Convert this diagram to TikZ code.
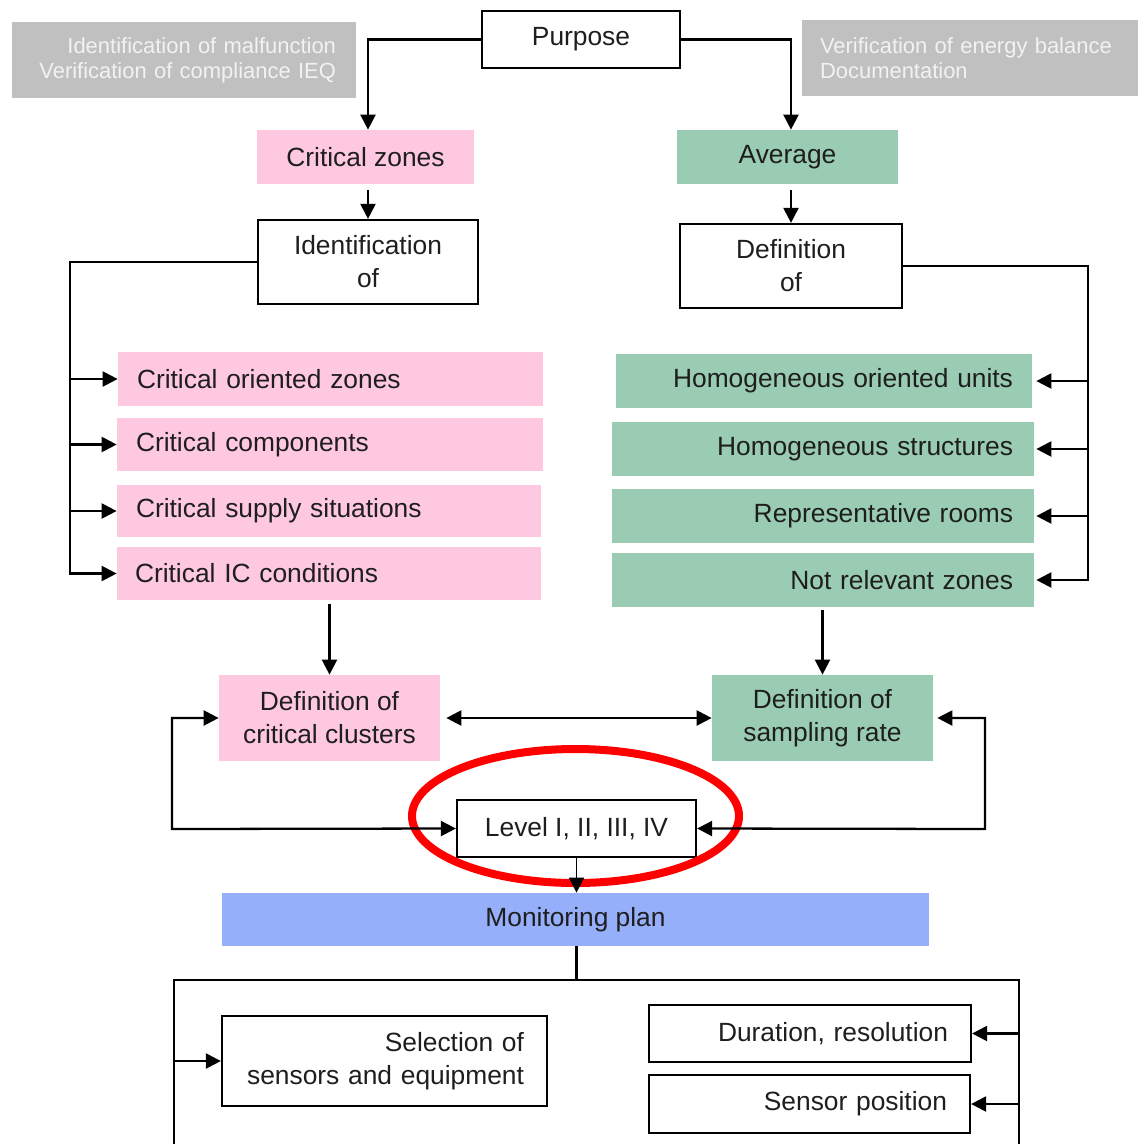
\documentclass[tikz,border=0pt]{standalone}
\usepackage{fontspec}
\setmainfont{Liberation Sans}
\usetikzlibrary{arrows.meta}
\newdimen\pxu \pxu=0.02cm
\definecolor{pinkc}{RGB}{255,200,225}
\definecolor{greenc}{RGB}{153,204,178}
\definecolor{bluec}{RGB}{150,175,250}
\definecolor{grayc}{RGB}{192,192,192}
\definecolor{graytxt}{RGB}{242,242,242}
\definecolor{txt}{RGB}{30,30,30}
\newcommand\mfs{\fontsize{15}{18.8}\selectfont}
\newcommand\gfs{\fontsize{12.5}{14.2}\selectfont}
\tikzset{
  base/.style={inner sep=0pt, font=\mfs, text=txt},
  wbox/.style={base, draw=black, line width=1.3pt, fill=white},
  pbox/.style={base, fill=pinkc},
  gbox/.style={base, fill=greenc},
  bbox/.style={base, fill=bluec},
  grbox/.style={inner sep=0pt, font=\gfs, text=graytxt, fill=grayc},
  conn/.style={line width=1.3pt, draw=black},
  arr/.style={conn, -{Triangle[length=0.3cm,width=0.3cm]}},
  arrs/.style={conn, {Triangle[length=0.3cm,width=0.3cm]}-{Triangle[length=0.3cm,width=0.3cm]}},
}
\begin{document}
\begin{tikzpicture}[x=0.02cm,y=-0.02cm]
\useasboundingbox (0,0) rectangle (1138,1144);
% top
\node[wbox, minimum width=198\pxu, minimum height=57\pxu] (purp) at (581,39.5) {Purpose};
\node[grbox, minimum height=76\pxu, text width=304\pxu, inner xsep=20\pxu, align=right] (gl) at (184,60) {Identification of malfunction\\Verification of compliance IEQ};
\node[grbox, minimum height=76\pxu, text width=300\pxu, inner xsep=18\pxu, align=left] (gr) at (970,58) {Verification of energy balance\\Documentation};
\node[pbox, minimum width=217\pxu, minimum height=54\pxu] (cz) at (365.5,157) {Critical zones};
\node[gbox, minimum width=221\pxu, minimum height=54\pxu] (av) at (787.5,157) {Average};
\node[wbox, minimum width=220\pxu, minimum height=84\pxu, align=center] (idf) at (368,262) {Identification\\of};
\node[wbox, minimum width=222\pxu, minimum height=84\pxu, align=center] (dfn) at (791,266) {Definition\\of};
% pink items
\node[pbox, minimum height=54\pxu, text width=387\pxu, inner xsep=19\pxu, align=left] (c1) at (330.5,379) {Critical oriented zones};
\node[pbox, minimum height=53\pxu, text width=388\pxu, inner xsep=19\pxu, align=left] (c2) at (330,444.5) {Critical components};
\node[pbox, minimum height=52\pxu, text width=386\pxu, inner xsep=19\pxu, align=left] (c3) at (329,511) {Critical supply situations};
\node[pbox, minimum height=53\pxu, text width=388\pxu, inner xsep=18\pxu, align=left] (c4) at (329,573.5) {Critical IC conditions};
% green items
\node[gbox, minimum height=54\pxu, text width=378\pxu, inner xsep=19\pxu, align=right] (g1) at (824,381) {Homogeneous oriented units};
\node[gbox, minimum height=54\pxu, text width=380\pxu, inner xsep=21\pxu, align=right] (g2) at (823,449) {Homogeneous structures};
\node[gbox, minimum height=54\pxu, text width=380\pxu, inner xsep=21\pxu, align=right] (g3) at (823,516) {Representative rooms};
\node[gbox, minimum height=54\pxu, text width=380\pxu, inner xsep=21\pxu, align=right] (g4) at (823,580) {Not relevant zones};
% middle
\node[pbox, minimum width=221\pxu, minimum height=86\pxu, align=center] (cl) at (329.5,718) {Definition of\\critical clusters};
\node[gbox, minimum width=221\pxu, minimum height=86\pxu, align=center] (sr) at (822.5,718) {Definition of\\sampling rate};
\node[wbox, minimum width=239\pxu, minimum height=57\pxu] (lv) at (576.5,828.5) {Level I, II, III, IV};
\node[bbox, minimum width=707\pxu, minimum height=53\pxu] (mp) at (575.5,919.5) {Monitoring plan};
% bottom
\node[wbox, minimum height=90\pxu, text width=279\pxu, inner xsep=23\pxu, align=right] (sel) at (384.5,1061) {Selection of\\sensors and equipment};
\node[wbox, minimum height=57\pxu, text width=276\pxu, inner xsep=23\pxu, align=right] (dur) at (810,1033.5) {Duration, resolution};
\node[wbox, minimum height=58\pxu, text width=275\pxu, inner xsep=23\pxu, align=right] (sp) at (809.5,1104) {Sensor position};
% highlight ellipse
\draw[red, line width=0.16cm] (575.5,816) ellipse [x radius=163.5, y radius=67];
% coordinates
\coordinate (lb) at (70,262);
\coordinate (rb) at (1088,266);
\coordinate (ll) at (172,829);
\coordinate (rr) at (985,829);
\coordinate (hb) at (576.5,980);
\coordinate (bl) at (174,1144);
\coordinate (br) at (1019,1144);
% connectors
\draw[arr] (purp.west) -| (idf.north |- cz.north);
\draw[arr] (purp.east) -| (dfn.north |- av.north);
\draw[arr] ([yshift=-6\pxu]idf.north |- cz.south) -- (idf.north);
\draw[arr] ([yshift=-6\pxu]dfn.north |- av.south) -- (dfn.north);
\draw[arr] (idf.west) -| (lb |- c4.west) -- (c4.west);
\draw[arr] (lb |- c1.west) -- (c1.west);
\draw[arr] (lb |- c2.west) -- (c2.west);
\draw[arr] (lb |- c3.west) -- (c3.west);
\draw[arr] (dfn.east) -| (rb |- g4.east) -- ([xshift=2\pxu]g4.east);
\draw[arr] (rb |- g1.east) -- ([xshift=4\pxu]g1.east);
\draw[arr] (rb |- g2.east) -- ([xshift=2\pxu]g2.east);
\draw[arr] (rb |- g3.east) -- ([xshift=2\pxu]g3.east);
\draw[arr] ([yshift=-4\pxu]cl.north |- c4.south) -- (cl.north);
\draw[arr] ([yshift=-3\pxu]sr.north |- g4.south) -- (sr.north);
\draw[arrs] ([xshift=6\pxu]cl.east) -- (sr.west);
\draw[arrs] (cl.west) -| (ll) -- (lv.west);
\draw[arrs] ([xshift=4\pxu]sr.east) -| (rr) -- (lv.east);
\draw[arr, line width=0.9pt] (lv.south) -- (lv.south |- mp.north);
\draw[conn] (hb |- mp.south) -- (hb);
\draw[conn] (bl) -- (bl |- hb) -- (br |- hb) -- (br);
\draw[arr] (bl |- sel.west) -- (sel.west);
\draw[arr] (br |- dur.east) -- (dur.east);
\draw[arr] (br |- sp.east) -- (sp.east);
\end{tikzpicture}
\end{document}
